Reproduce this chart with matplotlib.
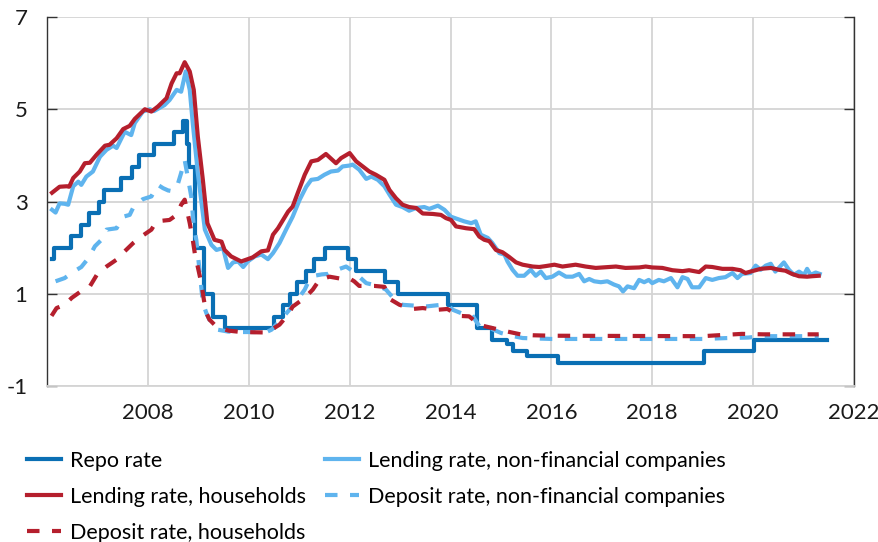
import matplotlib
matplotlib.use("Agg")
import matplotlib.pyplot as plt

plt.rcParams["font.family"] = ["Lato", "DejaVu Sans"]

# Colours
DARK_BLUE = "#0a6fb4"
LIGHT_BLUE = "#5fb4ee"
RED = "#b51f2d"
GRID = "#d4d4d4"

# --- Data (decimal years, per cent) ---
repo_x = [2006.10, 2006.14, 2006.47, 2006.68, 2006.83, 2007.04, 2007.14, 2007.47, 2007.68, 2007.83,
          2008.12, 2008.51, 2008.69, 2008.77, 2008.81, 2008.93, 2009.11, 2009.30, 2009.52, 2010.51,
          2010.67, 2010.82, 2010.96, 2011.13, 2011.30, 2011.51, 2011.97, 2012.12, 2012.70, 2012.96,
          2013.96, 2014.52, 2014.83, 2015.13, 2015.23, 2015.52, 2016.13, 2019.02, 2020.02, 2021.47]
repo_y = [1.75, 2.00, 2.25, 2.50, 2.75, 3.00, 3.25, 3.50, 3.75, 4.00,
          4.25, 4.50, 4.75, 4.25, 3.75, 2.00, 1.00, 0.50, 0.25, 0.50,
          0.75, 1.00, 1.25, 1.50, 1.75, 2.00, 1.75, 1.50, 1.25, 1.00,
          0.75, 0.25, 0.00, -0.10, -0.25, -0.35, -0.50, -0.25, 0.00, 0.00]

lend_nfc_x = [2006.10, 2006.17, 2006.25, 2006.35, 2006.42, 2006.52, 2006.62, 2006.68, 2006.78, 2006.91,
              2007.05, 2007.18, 2007.31, 2007.38, 2007.54, 2007.67, 2007.74, 2007.90, 2008.04, 2008.12,
              2008.33, 2008.43, 2008.57, 2008.66, 2008.75, 2008.83, 2008.89, 2008.99, 2009.13, 2009.26,
              2009.36, 2009.49, 2009.59, 2009.69, 2009.79, 2009.89, 2009.98, 2010.12, 2010.25, 2010.38,
              2010.48, 2010.61, 2010.74, 2010.87, 2011.01, 2011.14, 2011.24, 2011.37, 2011.50, 2011.63,
              2011.77, 2011.86, 2012.00, 2012.06, 2012.19, 2012.33, 2012.43, 2012.56, 2012.69, 2012.79,
              2012.92, 2013.05, 2013.18, 2013.32, 2013.48, 2013.58, 2013.75, 2013.88, 2014.01, 2014.14,
              2014.27, 2014.41, 2014.50, 2014.60, 2014.74, 2014.83, 2014.97, 2015.07, 2015.13, 2015.23,
              2015.33, 2015.46, 2015.59, 2015.69, 2015.79, 2015.89, 2016.02, 2016.15, 2016.29, 2016.42,
              2016.55, 2016.65, 2016.75, 2016.85, 2016.98, 2017.11, 2017.24, 2017.34, 2017.42, 2017.51,
              2017.64, 2017.74, 2017.84, 2017.93, 2018.00, 2018.13, 2018.23, 2018.37, 2018.50, 2018.60,
              2018.70, 2018.79, 2018.93, 2019.06, 2019.19, 2019.32, 2019.45, 2019.59, 2019.69, 2019.78,
              2019.95, 2020.05, 2020.15, 2020.25, 2020.35, 2020.44, 2020.61, 2020.71, 2020.81, 2020.91,
              2021.01, 2021.07, 2021.14, 2021.24, 2021.32]
lend_nfc_y = [2.82, 2.76, 2.96, 2.95, 2.93, 3.33, 3.43, 3.36, 3.54, 3.65,
              3.97, 4.12, 4.21, 4.16, 4.51, 4.44, 4.70, 4.95, 5.00, 4.96,
              5.09, 5.20, 5.42, 5.38, 5.82, 5.42, 4.70, 3.62, 2.39, 2.06,
              1.95, 1.99, 1.56, 1.68, 1.70, 1.58, 1.70, 1.81, 1.85, 1.75,
              1.88, 2.10, 2.39, 2.67, 3.04, 3.32, 3.47, 3.49, 3.58, 3.65,
              3.67, 3.76, 3.78, 3.80, 3.69, 3.49, 3.54, 3.47, 3.33, 3.15,
              2.93, 2.88, 2.80, 2.86, 2.88, 2.84, 2.91, 2.82, 2.67, 2.62,
              2.57, 2.53, 2.57, 2.28, 2.21, 2.10, 1.88, 1.85, 1.70, 1.52,
              1.39, 1.39, 1.52, 1.39, 1.48, 1.34, 1.37, 1.46, 1.37, 1.37,
              1.43, 1.27, 1.32, 1.27, 1.25, 1.27, 1.20, 1.16, 1.05, 1.16,
              1.12, 1.30, 1.25, 1.30, 1.23, 1.30, 1.27, 1.34, 1.14, 1.36,
              1.32, 1.14, 1.14, 1.34, 1.30, 1.34, 1.36, 1.45, 1.34, 1.43,
              1.45, 1.61, 1.52, 1.61, 1.65, 1.48, 1.68, 1.52, 1.41, 1.48,
              1.41, 1.54, 1.41, 1.46, 1.43]

lend_hh_x = [2006.10, 2006.25, 2006.39, 2006.44, 2006.52, 2006.65, 2006.75, 2006.85, 2006.98, 2007.15,
             2007.24, 2007.38, 2007.51, 2007.64, 2007.74, 2007.94, 2008.07, 2008.20, 2008.37, 2008.47,
             2008.57, 2008.63, 2008.73, 2008.83, 2008.91, 2008.99, 2009.09, 2009.18, 2009.32, 2009.46,
             2009.52, 2009.65, 2009.85, 2009.98, 2010.08, 2010.25, 2010.38, 2010.48, 2010.58, 2010.68,
             2010.78, 2010.87, 2010.97, 2011.11, 2011.24, 2011.37, 2011.53, 2011.73, 2011.83, 2012.00,
             2012.13, 2012.26, 2012.39, 2012.52, 2012.69, 2012.79, 2012.92, 2013.05, 2013.18, 2013.32,
             2013.45, 2013.65, 2013.81, 2013.91, 2014.01, 2014.11, 2014.31, 2014.47, 2014.57, 2014.67,
             2014.77, 2014.90, 2015.03, 2015.16, 2015.30, 2015.43, 2015.63, 2015.76, 2015.89, 2016.06,
             2016.22, 2016.48, 2016.68, 2016.88, 2017.28, 2017.47, 2017.74, 2017.87, 2018.00, 2018.20,
             2018.40, 2018.60, 2018.73, 2018.93, 2019.06, 2019.19, 2019.39, 2019.59, 2019.75, 2019.85,
             2019.98, 2020.15, 2020.35, 2020.51, 2020.64, 2020.77, 2020.91, 2021.07, 2021.17, 2021.30]
lend_hh_y = [3.19, 3.32, 3.33, 3.32, 3.51, 3.65, 3.83, 3.84, 4.01, 4.21,
             4.23, 4.37, 4.57, 4.64, 4.79, 5.00, 4.95, 5.06, 5.24, 5.56,
             5.78, 5.78, 6.02, 5.82, 5.42, 4.41, 3.47, 2.53, 2.17, 2.13,
             1.95, 1.81, 1.70, 1.75, 1.79, 1.92, 1.94, 2.28, 2.42, 2.60,
             2.78, 2.89, 3.18, 3.58, 3.87, 3.90, 4.03, 3.83, 3.94, 4.05,
             3.87, 3.76, 3.65, 3.58, 3.47, 3.25, 3.07, 2.93, 2.88, 2.86,
             2.74, 2.73, 2.71, 2.64, 2.60, 2.46, 2.42, 2.40, 2.24, 2.17,
             2.14, 1.95, 1.90, 1.80, 1.68, 1.63, 1.59, 1.58, 1.60, 1.63,
             1.59, 1.63, 1.59, 1.56, 1.59, 1.56, 1.57, 1.59, 1.57, 1.56,
             1.51, 1.49, 1.51, 1.47, 1.59, 1.58, 1.54, 1.54, 1.51, 1.45,
             1.49, 1.54, 1.56, 1.52, 1.50, 1.43, 1.38, 1.37, 1.38, 1.39]

dep_nfc_x = [2006.17, 2006.35, 2006.53, 2006.68, 2006.82, 2006.95, 2007.08, 2007.18, 2007.38, 2007.51,
             2007.64, 2007.72, 2007.90, 2008.07, 2008.20, 2008.30, 2008.40, 2008.50, 2008.60, 2008.66,
             2008.73, 2008.86, 2008.91, 2008.96, 2009.03, 2009.09, 2009.16, 2009.22, 2009.29, 2009.39,
             2009.59, 2009.79, 2009.98, 2010.35, 2010.45, 2010.51, 2010.64, 2010.78, 2010.94, 2011.11,
             2011.17, 2011.30, 2011.45, 2011.57, 2011.70, 2011.93, 2012.05, 2012.19, 2012.33, 2012.45,
             2012.59, 2012.72, 2012.92, 2013.05, 2013.32, 2013.48, 2013.81, 2013.94, 2014.05, 2014.21,
             2014.41, 2014.57, 2014.75, 2015.00, 2015.25, 2015.43, 2015.70, 2016.00, 2019.00, 2019.50,
             2019.90, 2020.20, 2021.30]
dep_nfc_y = [1.27, 1.34, 1.48, 1.58, 1.77, 2.03, 2.17, 2.39, 2.42, 2.67,
             2.71, 2.89, 3.05, 3.11, 3.36, 3.29, 3.24, 3.22, 3.40, 3.62,
             3.90, 3.11, 2.46, 2.17, 1.45, 0.80, 0.58, 0.44, 0.29, 0.22,
             0.18, 0.17, 0.17, 0.17, 0.22, 0.29, 0.44, 0.62, 0.83, 1.09,
             1.23, 1.39, 1.42, 1.43, 1.50, 1.59, 1.50, 1.37, 1.23, 1.20,
             1.16, 1.09, 0.84, 0.76, 0.74, 0.72, 0.76, 0.76, 0.65, 0.58,
             0.57, 0.30, 0.27, 0.15, 0.08, 0.04, 0.03, 0.02, 0.02, 0.04,
             0.05, 0.08, 0.08]

dep_hh_x = [2006.09, 2006.19, 2006.35, 2006.49, 2006.72, 2006.85, 2007.01, 2007.18, 2007.38, 2007.54,
            2007.71, 2007.87, 2008.07, 2008.17, 2008.43, 2008.57, 2008.66, 2008.73, 2008.83, 2008.89,
            2008.93, 2009.06, 2009.11, 2009.16, 2009.22, 2009.32, 2009.45, 2009.60, 2009.85, 2010.35,
            2010.45, 2010.61, 2010.78, 2010.87, 2011.11, 2011.27, 2011.40, 2011.60, 2011.86, 2012.00,
            2012.09, 2012.19, 2012.49, 2012.69, 2012.82, 2012.99, 2013.25, 2013.45, 2013.71, 2013.94,
            2014.17, 2014.37, 2014.57, 2014.70, 2014.97, 2015.13, 2015.43, 2015.63, 2016.00, 2019.00,
            2019.30, 2019.78, 2020.20, 2021.30]
dep_hh_y = [0.52, 0.69, 0.76, 0.91, 1.09, 1.16, 1.45, 1.59, 1.74, 1.92,
            2.10, 2.24, 2.39, 2.57, 2.60, 2.71, 2.93, 3.04, 2.53, 2.17,
            1.88, 1.23, 0.87, 0.58, 0.44, 0.33, 0.25, 0.20, 0.17, 0.16,
            0.22, 0.33, 0.55, 0.72, 0.91, 1.09, 1.30, 1.37, 1.32, 1.33,
            1.27, 1.17, 1.17, 1.15, 0.87, 0.76, 0.67, 0.69, 0.65, 0.67,
            0.52, 0.51, 0.33, 0.29, 0.22, 0.18, 0.11, 0.10, 0.09, 0.08,
            0.10, 0.13, 0.12, 0.12]

LABELS = {
    "repo": "Repo rate",
    "lend_nfc": "Lending rate, non-financial companies",
    "lend_hh": "Lending rate, households",
    "dep_nfc": "Deposit rate, non-financial companies",
    "dep_hh": "Deposit rate, households",
}

YEAR_TICKS = [2008, 2010, 2012, 2014, 2016, 2018, 2020, 2022]
VALUE_TICKS = [-1, 1, 3, 5, 7]

FS = 16
LEG_FS = 15.5

# --- Figure ---
W, H = 879, 542
fig = plt.figure(figsize=(W / 100, H / 100), dpi=100)
ax = fig.add_axes([47 / W, 1 - 386 / H, 807 / W, 369 / H])

LW = 3.0
DASH = (0, (3, 3))
h_repo, = ax.step(repo_x, repo_y, where="post", color=DARK_BLUE, lw=LW, zorder=3)
h_lnfc, = ax.plot(lend_nfc_x, lend_nfc_y, color=LIGHT_BLUE, lw=LW, zorder=4,
                  solid_joinstyle="round")
h_lhh, = ax.plot(lend_hh_x, lend_hh_y, color=RED, lw=LW, zorder=5, solid_joinstyle="round")
h_dnfc, = ax.plot(dep_nfc_x, dep_nfc_y, color=LIGHT_BLUE, lw=LW, ls=DASH, zorder=6)
h_dhh, = ax.plot(dep_hh_x, dep_hh_y, color=RED, lw=LW, ls=DASH, zorder=7)

ax.set_xlim(2006, 2022)
ax.set_ylim(-1, 7)
ax.set_xticks(YEAR_TICKS)
ax.set_yticks(VALUE_TICKS)
ax.set_yticklabels([str(v) for v in VALUE_TICKS])

ax.grid(True, color=GRID, linewidth=1.3, zorder=0)
ax.set_axisbelow(True)

for side in ("left", "right"):
    ax.spines[side].set_color("#333333")
    ax.spines[side].set_linewidth(1.0)
ax.spines["top"].set_visible(False)
ax.spines["bottom"].set_color(GRID)
ax.spines["bottom"].set_linewidth(1.3)

ax.tick_params(axis="y", direction="in", length=7, width=1.0, color="#333333",
               right=True, labelsize=FS, pad=14, labelcolor="#1a1a1a")
ax.tick_params(axis="x", length=0, labelsize=FS, pad=12, labelcolor="#1a1a1a")

handles = [h_repo, h_lhh, h_dhh, h_lnfc, h_dnfc]
labels = [LABELS["repo"], LABELS["lend_hh"], LABELS["dep_hh"], LABELS["lend_nfc"], LABELS["dep_nfc"]]
fig.legend(handles, labels, loc="upper left", bbox_to_anchor=(27 / W, 1 - 451 / H),
           ncol=2, frameon=False, fontsize=LEG_FS, borderpad=0, borderaxespad=0,
           handlelength=1.6, handletextpad=0.38, columnspacing=0.9, labelspacing=0.74)

fig.savefig("out.png", dpi=100)
